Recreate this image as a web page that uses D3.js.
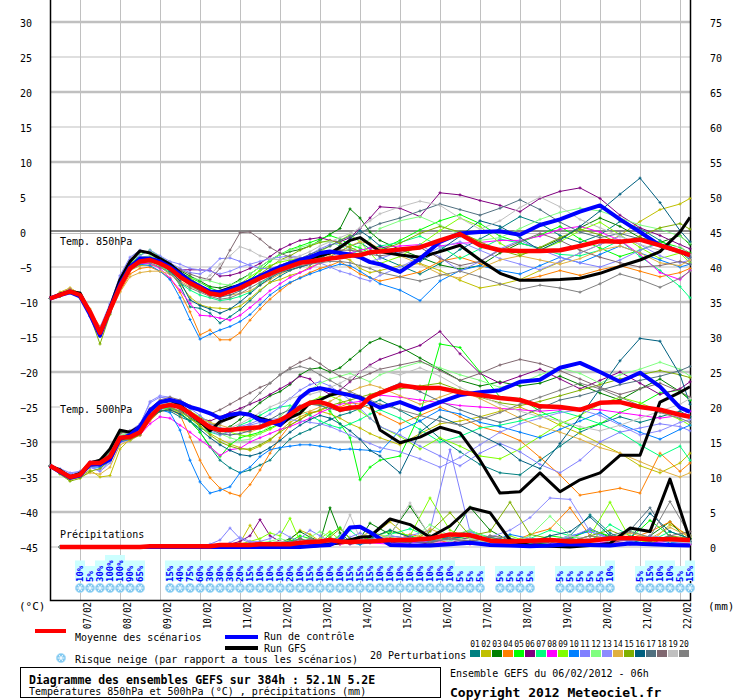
<!DOCTYPE html>
<html>
<head>
<meta charset="utf-8">
<script src="https://cdn.jsdelivr.net/npm/d3@7"></script>
<style>
body { margin: 0; background: #fff; }
svg { display: block; }
text { font-family: "DejaVu Sans Mono", monospace; }
</style>
</head>
<body>
<svg id="chart" width="740" height="700"></svg>
<script>
// forecast hours of the temperature points (6h then 12h steps)
var hoursT = [0,6,12,18,24,30,36,42,48,54,60,66,72,78,84,90,96,102,108,114,120,126,132,138,144,150,156,162,168,174,180,186,192,198,
  210,222,234,246,258,270,282,294,306,318,330,342,354,366,378,384];
// forecast hours of the precipitation points
var hoursP = [6,12,18,24,30,36,42,48,54,60,66,72,78,84,90,96,102,108,114,120,126,132,138,144,150,156,162,168,174,180,186,192,
  204,216,228,240,252,264,276,288,300,312,324,336,348,360,372,384];
var dayHours = [18,42,66,90,114,138,162,186,210,234,258,282,306,330,354,378];
var dayLabels = ["07/02","08/02","09/02","10/02","11/02","12/02","13/02","14/02","15/02","16/02","17/02","18/02","19/02","20/02","21/02","22/02"];
var tempTicks = [30,25,20,15,10,5,0,-5,-10,-15,-20,-25,-30,-35,-40,-45];
var precipTicks = [75,70,65,60,55,50,45,40,35,30,25,20,15,10,5,0];

// mean, control run and GFS run
var mean850 = [-9.5,-9,-8.5,-9,-11.4,-14.4,-11.1,-7.8,-5.2,-4.2, -4,-4.5,-5.2,-6.4,-7.3,-8,-8.8,-9,-8.5,-8, -7.3,-6.6,-6,-5.4,-4.9,-4.4,-4.2,-4,-3.8,-3.6, -3.4,-3.3,-2.9,-2.8,-2.5,-2.2,-1.2,-0.3,-1.9,-2.6, -2.7,-2.7,-2.6,-2,-1.3,-1.4,-1.1,-1.9,-2.8,-3.3];
var ctrl850 = [-9.5,-9,-8.6,-9.2,-11.8,-14.8,-11,-7.5,-5,-3.8, -3.8,-4.2,-5,-6,-7,-7.8,-8.5,-8.6,-8.2,-7.6, -7,-6.3,-5.6,-5,-4.5,-4,-3.6,-3,-2.8,-3, -3.2,-3.6,-4.3,-4.6,-5.7,-3.8,-1.4,-0.2,0,0.1, -0.4,1,1.8,2.9,3.8,1.8,0,-1.9,-2.8,-3.3];
var gfs850 = [-9.5,-8.9,-8.5,-8.7,-11.5,-14.5,-10.8,-6.8,-4.2,-2.7, -3,-3.8,-4.6,-5.8,-7,-8,-8.7,-8.5,-8,-7.6, -7,-6.5,-5.8,-5.2,-4.6,-4.2,-3.8,-3.4,-3,-2.2, -1.2,-0.8,-1.8,-2.8,-3.3,-3.6,-2.8,-1.9,-4,-5.9, -6.9,-6.9,-6.8,-6.6,-5.9,-4.9,-4,-2.8,0,2.1];
var mean500 = [-33.4,-34.2,-35,-34.7,-33,-33,-32.1,-29.4,-29.3,-28.6, -26.4,-25,-24.7,-25,-25.9,-26.9,-27.9,-28.3,-28.3,-28.1, -28,-27.9,-27.3,-26.9,-26.1,-25.1,-24.4,-24.3,-24.7,-25.4, -25.1,-25,-23.6,-23,-21.9,-22.3,-22.3,-22.9,-23.3,-23.7, -24,-24.9,-25,-25.4,-24.4,-24.3,-25,-25.4,-26.1,-26.4];
var ctrl500 = [-33.4,-34.3,-35.1,-34.8,-33.2,-33.2,-32.5,-29.6,-29,-27.8, -25.5,-24.3,-24,-24.3,-25,-25.4,-25.9,-26.6,-26.1,-25.9, -26.1,-26.9,-27.1,-27.6,-25.8,-23.7,-22.6,-22.3,-22.6,-23, -23.3,-23.7,-24.4,-25.1,-24.3,-25.4,-24.3,-23.3,-22.9,-22.6, -21.4,-21.1,-19.4,-18.7,-20,-21.4,-20.1,-22.1,-25.1,-25.7];
var gfs500 = [-33.4,-34,-35,-34.5,-33,-32.6,-31,-28.3,-28.6,-27.8, -25.5,-24.3,-24,-24.7,-26,-27.1,-28.4,-27.1,-26.6,-25.9, -26.1,-26.6,-27,-27.6,-26.5,-25.9,-24.4,-24,-23.3,-23, -23.3,-23.6,-24.4,-28.3,-30.1,-29.3,-27.9,-28.7,-32.6,-37.3, -37.1,-34.4,-37.1,-35.4,-34.4,-31.9,-31.9,-24.3,-22.9,-22.1];
var meanPr = [0,0,0,0,0,0,0,0,0,0.1, 0.1,0.1,0.1,0.1,0.1,0.1,0.3,0.3,0.3,0.3, 0.4,0.4,0.4,0.4,0.6,0.7,0.8,1,0.8,0.7, 0.8,0.8,1,1,1.2,1.8,1.7,0.9,0.8,0.9, 1,0.8,0.9,1.2,1.3,1.1,1.1,1];
var ctrlPr = [0,0,0,0,0,0,0,0,0,0, 0,0,0,0,0,0,0,0,0,0, 0,0,0,0,0,0.1,0.2,0.3,1,2.8, 2.9,2.1,0.3,0.2,0.2,0.4,0.6,0.3,0.2,0.1, 0.2,0.4,0.3,0.2,0.5,0.4,0.3,0.2];
var gfsPr = [0,0,0,0,0,0,0,0,0,0, 0,0,0,0,0,0,0,0,0.1,0.1, 0.1,0.2,0.1,0.1,0.1,0.1,0.2,0.4,0.6,1, 1.4,1.5,4,3.2,1.4,3,5.6,4.9,1,0.2, 0.1,0,0.2,0.5,2.7,2.2,9.7,1];

// 20 perturbations, 850 hPa (°C)
var pert850 = [
 [-9.5,-8.8,-8.3,-9,-11.2,-14,-10.8,-7.3,-4.8,-3.6, -3.8,-4.3,-5.6,-7.6,-10.7,-10.9,-11.6,-13,-12.1,-11.1, -9.8,-8.4,-7.2,-6.3,-5.5,-5,-4.6,-4.2,-3.5,-2.8, -2,-1.5,-2.4,-3.6,-4.8,-6,-4.5,-2.5,-1,0.5, 2.2,1.2,-0.5,-1.5,-0.4,1.5,0.5,-1.2,-2.8,-4],
 [-9.5,-8.6,-8,-8.8,-11,-14,-11,-7.8,-5.5,-4.8, -4.7,-5,-5.8,-7.4,-9.3,-10.4,-10.8,-10.9,-11,-10.6, -9.5,-8.3,-7.2,-6.8,-6.2,-5.8,-5,-4.5,-3.8,-3.5, -4,-5.2,-5.8,-5.5,-4.8,-4.5,-5.5,-6.9,-8,-7.5, -6.8,-5.5,-4.3,-3,-1.8,-0.5,1.5,3.2,4,4.8],
 [-9.5,-9.2,-8.6,-9,-11.4,-14.8,-11,-7.2,-4.4,-2.8, -3,-3.6,-4.4,-5.5,-6.3,-7,-7.8,-8,-7.6,-6.8, -6,-5,-4,-3.2,-2.8,-2.5,-2,-1.2,-0.3,0.5, 3.3,2,0,-1.2,-2.5,-3.6,-4.7,-5.3,-4.8,-3, -1.6,-2.3,-1,0.6,2,0.8,-0.8,-1.5,-0.5,-1.8],
 [-9.5,-8.8,-8.2,-8.8,-11.3,-13.5,-11.2,-8.5,-6,-5.2, -5,-5.6,-6.6,-8.6,-11.4,-14.7,-14,-15.4,-15.4,-14.4, -12.6,-11,-9.6,-8.4,-7.3,-6.5,-5.8,-5.2,-4.8,-4.2, -5.1,-6,-6.5,-7,-6.4,-5.7,-4.2,-3.6,-4.5,-5.8, -6.9,-6.3,-5.5,-6.2,-5.4,-4.8,-5.6,-6.4,-5.8,-5.2],
 [-9.5,-8.9,-8.2,-8.9,-11.3,-14.2,-11,-7.2,-4.6,-3.3, -2.6,-3.5,-4.5,-5.8,-6.5,-7.2,-8,-8.5,-8.2,-7.6, -6.8,-5.5,-4.2,-3.2,-2.5,-2,-1.5,-1,-0.5,-1, -1.8,-2.3,-3,-2.5,-1.2,0.3,1.6,2.5,1.2,-0.6, -1.5,-0.4,0.8,-1,-2.3,-3.5,-2.6,-1.4,-2.2,-3],
 [-9.5,-9,-8.7,-9.2,-11.6,-14.6,-11.5,-7.4,-4.8,-4, -4.2,-4.5,-5,-5.4,-5.4,-5.4,-5.5,-6.3,-6.2,-5.8, -5.2,-4.5,-3.5,-2.5,-1.8,-1.2,-1,-0.8,-1.2,-1.4, -0.8,0.5,2,3.6,3.4,2.2,5.6,5.3,4.5,3.8, 2.9,4.8,5.8,6.3,4.8,2.4,0.6,-0.5,-1.8,-2.4],
 [-9.5,-9,-8.4,-9,-11.3,-14.3,-11.2,-7.6,-5.2,-4.4, -4.2,-4.8,-5.8,-7.3,-8.3,-9,-9.4,-9.8,-9.6,-9.2, -8.6,-7.4,-6.4,-5.7,-5.1,-4.6,-4.2,-3.6,-3,-2.8, -3.2,-2.6,-2.3,-2,-1.5,-0.6,-2,-3.8,-2.4,-1, -1.6,-2.4,-3.2,-3.4,-2.6,-1.2,-3.5,-5.5,-7.8,-9.4],
 [-9.5,-8.9,-8.3,-9,-11.5,-14.6,-11.4,-7.8,-5.4,-4.5, -4.5,-5.2,-6.6,-8.3,-10.2,-11.9,-12,-12.3,-12.6,-11.9, -10.8,-9.6,-8.4,-7.4,-6.5,-5.8,-5.2,-4.4,-3.8,-3.4, -3,-2.6,-2.3,-2.2,-2,-1.8,-2,-1.6,-1.5,-1.2, -1.2,-0.6,0.4,0.8,0,-1.2,-3.2,-5.8,-6.8,-5.5],
 [-9.5,-9.1,-8.5,-9.1,-11.6,-14.9,-11.3,-7.5,-5,-4, -3.8,-4.2,-5,-6.2,-7.2,-8,-8.6,-8.8,-8.2,-7.4, -6.4,-5.5,-4.8,-4.3,-4,-3.8,-3.5,-2.8,-2,-1.2, -0.4,-1.4,-3,-4.5,-3.5,-1.8,0.2,2,0.8,-1.6, -3.2,-2.6,-1.4,0.2,1.4,-0.4,-2.2,-3.8,-3,-4.4],
 [-9.5,-9,-8.6,-9.4,-12,-14.8,-11.6,-8,-5.4,-4.6, -4.8,-5.6,-6.8,-9.4,-12.5,-15.3,-14.6,-14,-13.5,-12.8, -11.8,-10.4,-9,-8,-7.2,-6.6,-6,-5.5,-5,-4.6, -4.8,-5.6,-6.5,-7.4,-8.3,-9.8,-7,-5.5,-4.8,-5.5, -6,-4.8,-3.6,-4.4,-3.2,-2,-3,-4,-5,-4.6],
 [-9.5,-8.8,-8.1,-9.3,-12,-14.2,-10.4,-6.2,-3.6,-2.6, -3,-3.6,-4.4,-5.2,-5.8,-6,-5.2,-3.8,-3.7,-4.2, -4.8,-5.2,-5.2,-4.8,-4.2,-3.8,-3.2,-2.4,-1.8,-1.6, -2.4,-3.6,-4.2,-3.8,-2.8,-1.8,-3.6,-5.6,-4.2,-2.4, -1.2,-2.5,-3.6,-4.4,-5,-4,-2.6,-1.6,-2.8,-3.6],
 [-9.5,-9,-8.4,-8.9,-11.2,-14.1,-11,-7.4,-4.8,-3.6, -3.4,-4,-5,-6,-6.6,-6.8,-7,-7.4,-7.6,-7, -6,-5,-4,-3.2,-2.6,-2.2,-1.8,-1.4,-1.4,-2, -2.6,-2,-1,0.5,1.6,2.2,1,-0.4,-1.2,-0.8, 0.5,1.8,2.8,3.4,3,2,1,0.4,-0.6,-1.6],
 [-9.5,-8.9,-8.3,-9.2,-11.8,-13.6,-10.2,-6.4,-4,-3.4, -2.6,-3.4,-4.2,-4.6,-5.2,-5.4,-5.6,-6,-5.6,-5, -4.6,-4.2,-3.8,-3.6,-3.4,-3.6,-4,-4.4,-5,-5.6, -6,-6.6,-7,-6.2,-5,-3.6,-2.2,-1.4,-2.6,-3.8, -4.6,-5.4,-4.2,-3,-1.8,-0.6,-1.8,-3.4,-4.4,-4],
 [-9.5,-8.7,-8,-8.8,-11.5,-13.8,-11.6,-8.6,-6.4,-5.8, -5.6,-5.6,-6,-7,-7.8,-8.4,-9,-9.2,-9,-8.8, -8.4,-7.6,-6.8,-6,-5.4,-5,-4.4,-3.8,-3.4,-2.8, -2,-1.4,-1.6,-2.4,-3.4,-4.6,-6,-6.6,-5.2,-4, -3.4,-4,-4.6,-3.8,-2.6,-2,-3,-4.4,-4.8,-4],
 [-9.5,-9.2,-8.7,-9.4,-12,-16,-11.8,-7.8,-5.2,-4.2, -3.9,-4.1,-4.8,-5.8,-6.6,-7.6,-8.4,-8.6,-8.4,-7.8, -7,-6,-5,-4,-3.4,-2.6,-2,-1.5,-1.2,-1.6, -2.2,-2.8,-3,-2.6,-1.6,-0.2,0.8,0,-1.4,-2.6, -3.4,-2.2,-0.8,0.4,-0.4,-1.6,-0.6,0.6,1.2,0.4],
 [-9.5,-9,-8.5,-9.1,-11.5,-14.5,-11.2,-7.6,-5.1,-4, -4,-4.6,-5.6,-7,-9.7,-10.5,-11,-11.6,-11,-10, -8.8,-7.6,-6.6,-5.8,-5.4,-5,-4.6,-3.8,-3,-2, -1,0.2,-0.8,-2,-3.2,-4.2,-2.6,-0.6,1.6,0.8, -0.8,-2.6,-1.2,0.8,3,5.4,7.7,4.2,0.2,-1.4],
 [-9.5,-8.9,-8.4,-9,-11.4,-14.2,-11,-7.6,-5.2,-4.2, -4.1,-4.6,-5.4,-6.6,-7.6,-8.4,-9,-9.3,-9,-8.4, -7.6,-6.6,-5.6,-4.8,-4.2,-3.8,-3.2,-2.6,-2,-1.2, -0.6,-0.2,0.6,1.2,2,3,4,3.2,2.4,3.4, 4.6,3.2,1.4,0,-0.8,-0.2,-1,-1.8,-2.8,-3.6],
 [-9.5,-8.8,-8.2,-9,-11.4,-13.9,-10.6,-7,-4.6,-3.8, -3.7,-4.2,-4.8,-5.4,-6,-6.5,-6.8,-5.2,-2.6,-0.1, 0,-1,-2.2,-3,-3.6,-3.8,-3.6,-3.2,-2.8,-2.6, -2.6,-2.8,-3.2,-3.4,-3,-2.2,-3.8,-4.8,-4.2,-2.6, -1.4,-0.2,-1.2,-2.6,-3.6,-4.4,-5,-4.8,-4.2,-4.6],
 [-9.5,-9,-8.5,-9,-11.3,-14.2,-10.8,-7.2,-4.9,-4, -3.9,-4.4,-5.2,-6.4,-7.4,-7.4,-6.2,-4.6,-3.4,-2.1, -2.6,-3.4,-3.8,-4,-3.8,-3.4,-2.8,-2,-1.4,-0.8, -0.2,0.6,1.6,2.6,3.6,4.4,3.8,2,0.4,1.6, 3.5,5,3.6,1.8,0.6,-0.6,-1.8,-2.6,-2,-3.2],
 [-9.5,-9.1,-8.6,-9.2,-11.8,-14.8,-11.3,-7.6,-5.2,-4.4, -4.4,-5,-6,-7.2,-8,-8.6,-9.2,-9.6,-9.4,-8.8, -8,-7.2,-6.4,-5.8,-5.2,-4.8,-4.6,-4.4,-4.2,-4.2, -4.4,-4.8,-5.2,-5.8,-6.4,-7,-6.2,-5.6,-6.4,-7.4, -8.2,-7.6,-8,-8.6,-7.4,-6,-6.8,-7.9,-6.6,-5.6]
];

// 20 perturbations, 500 hPa (°C)
var pert500 = [
 [-33.4,-34.3,-35.2,-34.6,-33.2,-33.4,-32.6,-29.8,-29.2,-28.4, -26.6,-25.4,-25.6,-26.4,-27,-28.6,-30.7,-32.6,-33.7,-34.4, -34,-33.3,-32.6,-31,-29.6,-28.8,-28.2,-27.5,-26.8,-26.2, -25.8,-25.2,-24.6,-24,-25.5,-27,-29.5,-31.4,-33.2,-34.4, -34.7,-32.6,-30.6,-28.6,-27.4,-26.4,-27.2,-26.4,-25.6,-26.4],
 [-33.4,-34.5,-35.4,-35,-34,-35,-34.8,-31,-29.6,-28.8, -26.6,-25.2,-25,-25.6,-26.6,-27.6,-28.8,-29.6,-30.3,-30.8, -31.2,-30.6,-29.8,-28.4,-27.2,-26.4,-25.8,-25.6,-26,-26.6, -27.4,-28,-28.8,-29.4,-30.4,-28.8,-27.4,-27,-26.4,-25.6, -25,-26.2,-27.6,-28.8,-30.2,-31.6,-33.4,-34.4,-33,-31.6],
 [-33.4,-34.2,-35,-34.4,-33.3,-32.8,-32,-28.6,-28.8,-28.2, -25.6,-24.2,-24.4,-25.4,-26.5,-27.4,-28,-28.4,-27.8,-26.8, -25.6,-24.4,-23.4,-22.8,-21.8,-20.4,-19.6,-19.4,-20,-19.4, -18.2,-17,-15.8,-15.2,-16.4,-18,-19.6,-21.2,-22,-21.4, -22,-21.6,-20.6,-21.8,-23,-24,-22.4,-21,-22.8,-24],
 [-33.4,-34,-35,-34.8,-33.6,-33.2,-32.4,-29.6,-29.6,-29, -27,-25.6,-25.4,-26.1,-29.3,-32.6,-35.1,-36.6,-37.3,-37.7, -36.1,-34,-31.6,-29.4,-27.6,-26.8,-25.8,-25.6,-24.8,-25, -24.4,-24.6,-25.2,-26,-27.4,-26.2,-25,-26.4,-27.8,-28.6, -29.8,-32.2,-34.7,-37.6,-37.1,-36.6,-37.3,-31.6,-34.2,-33],
 [-33.4,-34.4,-35.3,-34.6,-33,-32.6,-31.6,-29.4,-29.8,-28.8, -26.2,-25,-25,-25.8,-27,-28.6,-30.6,-32.1,-30.4,-29.4, -29,-28.6,-28,-27.4,-26.6,-25.4,-24.6,-24.6,-25.6,-27.4, -29.4,-35.4,-33.6,-32.6,-32,-26,-16,-16.5,-20,-23.6, -23.8,-25.6,-27,-28.2,-27.4,-25.8,-24.6,-23,-22.6,-24],
 [-33.4,-34.2,-34.8,-34.4,-32.8,-32.6,-31.8,-29.2,-28.8,-28, -25.4,-24.4,-24.2,-24.6,-25.6,-26.6,-27,-26.4,-25.8,-25.2, -24.6,-24,-23.2,-22.4,-21.6,-20.6,-21,-22.4,-23.2,-22.6, -21.4,-20,-19,-18.2,-17.2,-16.2,-14.2,-17.4,-20.2,-21.6, -20.6,-19.6,-21,-22.4,-21.2,-20,-21.6,-23.2,-22.4,-21.4],
 [-33.4,-34.3,-35,-34.5,-33.2,-33,-32.2,-29.6,-29.4,-28.6, -26.4,-25.2,-25.2,-26,-27,-28,-28.6,-29,-28.4,-27.6, -27,-26.2,-25.4,-25,-24.8,-25.4,-26.2,-27,-27.6,-28, -27.4,-26.8,-26,-25.4,-26.6,-28.2,-30,-29.2,-28,-27.6, -27,-26.2,-25.6,-26.4,-27.4,-28.6,-30.4,-32,-30.6,-32.6],
 [-33.4,-34.2,-34.9,-34.6,-33.2,-33.4,-32.6,-30,-29.6,-29, -27.4,-26.4,-26.6,-27.6,-28.6,-29.7,-30.7,-31.9,-31.1,-30.9, -30,-29.4,-28.8,-28.2,-27.8,-27.2,-26.6,-25.8,-25.2,-24.6, -24.4,-24.2,-23.6,-23.3,-23.6,-24,-24.4,-24.8,-25,-25.2, -25.4,-25.6,-25.4,-25.2,-25.4,-25.8,-26.2,-26.6,-26.2,-25.6],
 [-33.4,-34.4,-35.2,-34.8,-33.4,-33.2,-32.4,-29.6,-29.2,-28.6, -26,-24.8,-24.4,-24.8,-25.6,-26.4,-27.2,-28,-28.6,-29, -29.2,-28.8,-28.2,-27.4,-26.4,-25.2,-24.2,-23.6,-23.4,-24, -24.8,-25.6,-26.6,-27.8,-29.2,-31,-29.4,-30.6,-32,-32.4, -31,-29.2,-27.4,-26.2,-24.6,-23.6,-24.4,-25.6,-26.8,-27.6],
 [-33.4,-34.4,-35.2,-34.8,-33.6,-33.6,-32.8,-30,-29.6,-28.8, -26.6,-25.4,-25.8,-28.3,-32.6,-35.7,-37.3,-36.9,-36.4,-34.4, -33.6,-32.1,-31.1,-30.8,-30.6,-30.4,-30.4,-30.6,-30.8,-31.1, -31,-31.1,-31.2,-31.4,-28.3,-27,-25.4,-26,-27.2,-27.8, -28.6,-29.4,-28.2,-27,-25.8,-27.4,-28.6,-29.6,-28.2,-27.6],
 [-33.4,-34,-34.6,-34.2,-33.6,-34.2,-33,-29.6,-28.4,-27.4, -24.4,-23.6,-23.8,-24.4,-25.2,-26.2,-27.4,-28,-28.2,-27.8, -27.4,-26.8,-26,-25,-23.8,-22.6,-21.8,-21.4,-22,-23, -24,-25.2,-26.6,-27.8,-29,-30.6,-32,-33.4,-31.6,-30.2, -31.4,-33.2,-34.4,-32.6,-30,-28.6,-28,-27.4,-27.8,-28.4],
 [-33.4,-34.2,-35,-34.6,-33.2,-32.8,-31.6,-29,-28.8,-28.2, -25.8,-24.6,-24.4,-24.8,-25.8,-27,-28,-28.8,-29.4,-29.8, -29.6,-28.8,-27.6,-26.4,-25,-23.8,-22.6,-21.6,-21,-20.6, -20.2,-20.8,-21.4,-20.4,-19.4,-18.6,-19.4,-20.4,-21.2,-22.2, -21.6,-20.4,-19.4,-20.2,-21.6,-20.4,-19.6,-18.6,-19.6,-20.6],
 [-33.4,-33.8,-34.4,-34.2,-33.6,-34,-32.8,-29.8,-28.6,-27.6, -24.2,-23.4,-23.6,-24.6,-26,-27.2,-28.4,-29,-28.6,-28, -27.6,-27.2,-26.8,-26.6,-26.8,-27,-27.2,-27.4,-27.8,-28.4, -29,-29.6,-30.2,-30.8,-31.4,-32.4,-33.6,-32.2,-30.4,-28.6, -27.4,-26.6,-25.8,-25.4,-26.2,-27.6,-29,-28.4,-27.2,-26.8],
 [-33.4,-34.4,-35.4,-35,-34.4,-34.6,-33.6,-30.4,-29.8,-29, -26.8,-25.6,-25.4,-25.8,-26.4,-26.8,-27.2,-27.6,-28,-28.4, -28.6,-28,-27.2,-26.6,-26.2,-26,-25.6,-25,-24.2,-23.4, -22.8,-22.2,-21.8,-22.2,-23.4,-24.6,-23.6,-22.6,-23.8,-25.2, -26.6,-27.8,-28.6,-29.6,-30.8,-31.6,-32.8,-34,-35,-34.4],
 [-33.4,-34.6,-35.6,-35.2,-34.2,-33.8,-32.6,-29.8,-29.6,-29, -26.8,-25.6,-25.2,-25.6,-26.6,-27.8,-29,-30,-30.6,-31, -31,-30.4,-29.6,-28.6,-27.6,-26.8,-26,-25.4,-24.8,-24.4, -24,-23.6,-23.2,-22.8,-22.4,-22,-21.6,-22.6,-23.6,-24.4, -24.8,-24.2,-23.4,-22.6,-21.8,-21,-20.4,-19.8,-20.4,-20.8],
 [-33.4,-34.2,-35.2,-34.8,-33.4,-33.2,-32.4,-29.6,-29.4,-28.8, -26.6,-25.6,-25.4,-26,-27,-28.2,-29.4,-30.4,-31.2,-31.8, -32,-31.6,-30.8,-29.8,-28.6,-27.6,-26.8,-26.2,-26.6,-27.4, -28.4,-29.6,-31.2,-32,-34.4,-28.6,-26.4,-27.6,-29,-30.4, -32.6,-33.8,-30.2,-26.4,-22.4,-18.4,-15.2,-15.6,-20.4,-24.6],
 [-33.4,-34.2,-35,-34.6,-33.2,-33,-32.2,-29.4,-29,-28.4, -26,-24.8,-24.6,-25.2,-26.2,-27.2,-28.2,-28.8,-29,-28.8, -28.4,-27.6,-26.8,-26,-25.4,-24.8,-24.6,-24.8,-25.2,-25.6, -25.4,-24.8,-23.8,-22.8,-21.6,-22.8,-24.2,-25.4,-26.4,-27.2, -26.4,-25.2,-24,-23.4,-22.6,-21.8,-21.2,-20.6,-19.8,-19.2],
 [-33.4,-34,-34.8,-34.4,-33,-32.6,-31.6,-28.8,-28.4,-27.6, -25.2,-24,-23.6,-24,-24.8,-25.6,-26,-25.4,-24.6,-23.8, -23,-22.2,-21.6,-20.4,-19.4,-18.6,-18,-18.8,-19.8,-20.6, -21.2,-20.8,-20.2,-19.6,-19,-18.4,-19.8,-21.2,-20.2,-19, -18.2,-18.8,-19.8,-21,-22.2,-23.2,-22.4,-21.6,-22.8,-23.6],
 [-33.4,-34.1,-34.9,-34.5,-33.2,-32.8,-32,-29.2,-29,-28.2, -25.8,-24.6,-24.4,-25,-26,-27,-27.8,-28.2,-28,-27.4, -26.6,-25.8,-25,-24.4,-23.8,-23.4,-23.2,-22.8,-22.2,-21.6, -20.8,-20,-19.2,-19.8,-20.4,-19.4,-20.6,-22.2,-23.4,-24.6, -25.6,-26.4,-27,-27.8,-28.4,-27.6,-26.6,-25.6,-24.6,-23.8],
 [-33.4,-34.3,-35.1,-34.6,-33.4,-33.2,-32.4,-29.6,-29.4,-28.8, -26.4,-25.2,-25,-25.6,-26.4,-27.2,-27.6,-27.4,-26.6,-25.6, -24.4,-23,-21.6,-20.4,-19.6,-19.2,-19.6,-20.4,-21.2,-22, -22.8,-23.4,-24,-24.6,-25.4,-26.2,-27,-27.6,-26.8,-25.8, -24.6,-23.6,-22.6,-21.6,-22.4,-23.6,-24.8,-25.8,-26.6,-27.2]
];

// 20 perturbations, precipitation (mm)
var pertPr = [
 [0,0,0,0,0,0,0,0,0,0, 0,0,0,0,0,0,0.1,0.2,0.1,0, 0.2,0.4,0.3,0.8,1.2,0.6,0.4,0.8,1.6,0.6, 0.4,0.8,1.6,1.2,0.6,1.4,2.4,1.2,0.6,0.4, 0.8,1.6,4.6,2,0.6,1.2,0.8,0.4],
 [0,0,0,0,0,0,0,0,0,0, 0,0,0,0,0,0.1,0.2,0.3,0.6,3.1, 0.8,0.4,0.6,1,2.4,1.8,0.8,0.6,0.4,0.6, 0.8,1.4,3.6,1.2,0.6,0.4,0.8,1.2,0.6,0.4, 0.8,1.2,0.6,0.4,1.4,0.6,3.2,1.6],
 [0,0,0,0,0,0,0,0,0,0, 0,0,0,0,0,0,0,0.1,0.1,0.2, 0.3,0.4,0.6,1.2,2.2,1.4,0.8,5.6,2,0.8, 1.2,3.4,1.8,5.8,1.6,1.2,5.7,2.4,0.8,0.4, 0.6,1.2,2.6,1.4,0.8,1.6,3.6,0.6],
 [0,0,0,0,0,0,0,0,0,0, 0,0,0,0,0,0,0,0.1,0.2,0.1, 0.2,0.3,0.6,0.8,0.4,0.6,1,0.8,0.4,0.6, 1.2,0.8,0.6,1.8,1.2,0.6,0.8,1.4,0.6,1.8, 2.6,5.6,1.6,0.8,1.2,2.2,3.6,1.2],
 [0,0,0,0,0,0,0,0,0,0, 0,0,0,0,0,0,0.1,0.1,0.2,0.3, 0.4,0.6,0.4,0.8,1.6,1.2,0.6,1.8,2.8,1.2, 0.6,1.4,2.2,1.6,0.8,1.4,1.2,0.6,0.4,0.8, 1.6,1.2,2.4,1.6,1.2,3.8,1.6,0.6],
 [0,0,0,0,0,0,0,0,0,0, 0,0,0,0,0,0,0.2,0.4,0.8,1.6, 3.9,1.6,0.8,0.6,0.4,1,0.6,0.4,0.8,0.4, 0.6,1.2,0.6,0.8,0.4,0.6,1.4,0.8,0.6,0.4, 0.8,0.6,1.2,0.8,0.6,0.4,1.6,0.8],
 [0,0,0,0,0,0,0,0,0,0, 0,0,0,0,0,0,0,0.1,0.1,0.2, 0.2,0.4,0.6,0.4,0.8,0.6,1.2,0.8,1.6,2.4, 1.2,0.8,1.8,2.6,1.4,0.8,2.2,1.4,0.8,1.2, 2.4,1.6,0.8,3.2,1.6,0.8,2.2,1.2],
 [0,0,0,0,0,0,0,0,0,0, 0,0,0,0,0,0,0,0.1,0.1,0.2, 0.2,0.2,0.4,0.4,0.6,0.4,0.8,0.6,0.4,0.6, 0.8,0.6,0.4,0.6,0.8,0.6,0.4,0.6,0.4,0.2, 0.4,0.6,0.8,0.6,0.4,0.6,0.8,0.4],
 [0,0,0,0,0,0,0,0,0,0, 0,0,0,0,0,0,0,0.2,0.4,0.8, 1.2,2,1.6,4.1,0.8,0.6,1.2,2.2,1,0.8, 0.6,1.2,2.4,1.6,7,2.4,1.2,0.8,1.6,0.6, 1.2,0.8,1.6,6.4,1.2,0.6,1.4,0.8],
 [0,0,0,0,0,0,0,0,0,0, 0,0,0,0,0,0,0,0,0.1,0.1, 0.2,0.4,0.2,0.6,0.4,0.8,0.6,0.4,1.2,0.6, 0.4,0.6,1.2,0.8,0.6,1.4,0.8,0.6,1.8,1.2, 0.8,1.6,2.2,1.2,0.8,1.4,0.6,0.8],
 [0,0,0,0,0,0,0,0,0,0, 0,0,0,0,0,0.4,1,2.7,1.2,0.6, 0.6,0.4,0.8,0.6,1.2,2.4,1.6,0.8,0.6,1.4, 2,1.2,0.8,1.6,2.4,13.9,2.2,0.8,0.6,1.2, 0.8,1.4,2.6,1.2,0.8,1.6,1.2,0.6],
 [0,0,0,0,0,0,0,0,0,0, 0,0,0,0,0,0,0.1,0.2,0.2,0.4, 0.6,0.8,1.2,0.8,0.6,1.4,2.2,1.4,0.8,0.6, 1.2,2.2,1.4,0.8,3.2,1.6,2.4,1.2,0.6,1.6, 4.4,1.6,0.8,1.2,2.4,1.2,0.8,1.4],
 [0,0,0,0,0,0,0,0,0,0, 0,0,0,0,0,0,0.1,0.6,1.4,0.8, 0.8,1.2,2.2,1.4,0.8,0.6,1.2,0.8,0.6,0.8, 1.2,0.8,1.6,1.2,0.8,1.2,0.6,1.4,2.4,4.2, 7,6.8,2.2,1.2,0.8,1.4,0.8,0.6],
 [0,0,0,0,0,0,0,0,0,0, 0,0,0,0,0,0,0,0.1,0.2,0.4, 0.6,0.4,0.8,0.6,0.4,0.8,1.2,0.8,0.6,0.8, 1.4,2.2,1.2,0.8,2.6,1.4,0.8,1.2,0.6,0.8, 1.2,0.8,1.6,1.2,2,1.2,2.8,1.4],
 [0,0,0,0,0,0,0,0,0,0, 0,0,0,0,0,0,0,0.1,0.2,0.2, 0.4,0.6,0.8,0.6,1.2,0.8,0.6,1.4,2.6,1.2, 0.8,1.6,1.2,0.8,2.2,4.9,1.6,2.2,6.4,1.8, 1.2,0.8,1.6,2.4,1.2,0.8,1.6,1.2],
 [0,0,0,0,0,0,0,0,0,0, 0,0,0,0,0,0,0,0,0.1,0.2, 0.3,0.4,0.6,0.8,0.6,1.2,0.8,0.6,1.4,0.8, 0.6,1.2,2.4,1.4,0.8,1.2,1.6,0.8,1.2,0.6, 1.6,2.2,4.3,1.6,1.2,4.8,2.2,1.2],
 [0,0,0,0,0,0,0,0,0,0, 0,0,0,0,0,0,0,0.1,0.1,0.2, 0.2,0.4,0.6,0.4,0.8,0.6,0.8,1.2,0.8,0.6, 0.8,1.2,0.8,0.6,1.6,1.2,0.8,1.4,0.8,0.6, 0.8,1.2,0.8,1.6,2.4,5.6,1.2,0.8],
 [0,0,0,0,0,0,0,0,0,0, 0,0,0,0,0,0,0.1,0.2,0.3,0.4, 0.6,0.4,0.8,0.6,1.2,0.8,0.6,0.8,1.2,0.8, 0.6,0.8,1.2,0.8,0.6,1.2,0.8,1.6,1.2,0.8, 0.6,1.2,0.8,1.4,1.2,0.8,1.6,2.2],
 [0,0,0,0,0,0,0,0,0,0, 0,0,0,0,0,0,0,0.1,0.2,0.3, 0.4,0.6,0.8,0.6,0.8,1.2,0.8,0.6,1.4,4.6, 1.2,0.8,1.6,6.3,1.4,0.8,1.2,0.6,0.8,1.2, 0.8,1.6,1.2,0.8,1.4,1.2,0.8,0.6],
 [0,0,0,0,0,0,0,0,0,0, 0,0,0,0,0,0,0,0.1,0.2,0.2, 0.4,0.6,0.4,0.8,0.6,1.2,0.8,0.6,1.2,0.8, 0.6,1.2,0.8,1.4,0.8,1.2,0.6,1.6,1.2,0.8, 1.2,0.8,1.6,1.2,2.2,1.4,6.5,1.6]
];

var pertColors = ["#008080","#c0c000","#008000","#ff8000","#00ff00","#800080","#00ff80","#ff00ff","#80ff00","#0080ff",
  "#8080ff","#80ff80","#8c8cff","#e0b040","#80b000","#006080","#507080","#806870","#c0c0c0","#808080"];
var pertNames = ["01","02","03","04","05","06","07","08","09","10","11","12","13","14","15","16","17","18","19","20"];

// snow risk (%) every 6h from 0h to 384h, null = none
var snowPct = [null,null,null,10,5,30,100,100,90,65, null,null,15,40,75,60,30,30,30,20, 15,10,10,10,20,10,15,10,10,10,
  15,15,15,10,10,10,10,10,10,10, 10,5,5,5,null,5,5,5,5,null, null,5,5,5,5,5,10,null,null,5, 15,10,10,5,15];

var svg = d3.select("#chart");
var x = d3.scaleLinear().domain([0, 384]).range([50, 690]);
var yT = d3.scaleLinear().domain([-45, 30]).range([547, 22]);
var yP = d3.scaleLinear().domain([0, 75]).range([547, 22]);

// grid
var grid = svg.append("g");
grid.selectAll(".v").data(dayHours).join("line")
  .attr("x1", d => x(d) + 0.5).attr("x2", d => x(d) + 0.5)
  .attr("y1", 0).attr("y2", 600)
  .attr("stroke", "#c0c0c0");
grid.selectAll(".h").data(tempTicks.filter(d => d != -25 && d != 0)).join("line")
  .attr("x1", 50).attr("x2", 690)
  .attr("y1", d => yT(d)).attr("y2", d => yT(d))
  .attr("stroke", "#c0c0c0")
  .attr("stroke-width", d => d % 10 == 0 ? 2.5 : 1.2);
grid.append("line").attr("x1", 50).attr("x2", 60).attr("y1", yT(-25)).attr("y2", yT(-25)).attr("stroke", "#c0c0c0");
grid.append("line").attr("x1", 50).attr("x2", 690).attr("y1", yT(0) - 1).attr("y2", yT(0) - 1)
  .attr("stroke", "#888").attr("stroke-width", 2);
grid.append("line").attr("x1", 50).attr("x2", 690).attr("y1", yT(0) + 1.5).attr("y2", yT(0) + 1.5)
  .attr("stroke", "#c0c0c0").attr("stroke-width", 1);

// axes
var axL = svg.append("g").attr("transform", "translate(20,1)")
  .call(d3.axisRight(yT).tickValues(tempTicks).tickSize(0).tickPadding(0).tickFormat(d3.format("d")));
axL.select(".domain").remove();
axL.selectAll("text").attr("font-size", 10).attr("font-family", "DejaVu Sans Mono");
var axR = svg.append("g").attr("transform", "translate(710,1)")
  .call(d3.axisRight(yP).tickValues(precipTicks).tickSize(0).tickPadding(0));
axR.select(".domain").remove();
axR.selectAll("text").attr("font-size", 10).attr("font-family", "DejaVu Sans Mono");

// frame
svg.append("path").attr("d", "M50.5,0V600.5H690.5V0").attr("fill", "none").attr("stroke", "#000").attr("stroke-width", 1.5);

// date labels
svg.selectAll(".day").data(dayHours).join("text")
  .attr("transform", (d, i) => "translate(" + (x(d) + 11) + ",602) rotate(-90)")
  .attr("text-anchor", "end").attr("font-size", 10.5)
  .attr("textLength", 27).attr("lengthAdjust", "spacingAndGlyphs")
  .text((d, i) => dayLabels[i]);

svg.append("text").attr("x", 19).attr("y", 610).attr("font-size", 11).text("(°C)");
svg.append("text").attr("x", 708).attr("y", 610).attr("font-size", 11).text("(mm)");

// series drawing
var lines = svg.append("g");
function drawSeries(hours, vals, yScale, color, width, marks) {
  var pts = hours.map((h, i) => [h, vals[i]]);
  var line = d3.line().x(d => x(d[0])).y(d => yScale(d[1]));
  lines.append("path").datum(pts).attr("d", line)
    .attr("fill", "none").attr("stroke", color).attr("stroke-width", width).attr("stroke-linejoin", "round");
  if (marks) {
    lines.append("g").selectAll("path").data(pts).join("path")
      .attr("d", d => "M" + (x(d[0]) - 1.5) + "," + yScale(d[1]) + "h3M" + x(d[0]) + "," + (yScale(d[1]) - 1.5) + "v3")
      .attr("stroke", color).attr("stroke-width", 1);
  }
}
pert850.forEach((s, i) => drawSeries(hoursT, s, yT, pertColors[i], 1, true));
pert500.forEach((s, i) => drawSeries(hoursT, s, yT, pertColors[i], 1, true));
pertPr.forEach((s, i) => drawSeries(hoursP, s, yP, pertColors[i], 1, true));

drawSeries(hoursT, gfs850, yT, "#000", 3, false);
drawSeries(hoursT, gfs500, yT, "#000", 3, false);
drawSeries(hoursP, gfsPr, yP, "#000", 3, false);
drawSeries(hoursT, ctrl850, yT, "#0000ff", 4, false);
drawSeries(hoursT, ctrl500, yT, "#0000ff", 4, false);
drawSeries(hoursP, ctrlPr, yP, "#0000ff", 4, false);
drawSeries(hoursT, mean850, yT, "#ff0000", 4.5, false);
drawSeries(hoursT, mean500, yT, "#ff0000", 4.5, false);
drawSeries(hoursP, meanPr, yP, "#ff0000", 4.5, false);

// panel labels
svg.append("text").attr("x", 60).attr("y", 245).attr("font-size", 10).text("Temp. 850hPa");
svg.append("text").attr("x", 60).attr("y", 413).attr("font-size", 10).text("Temp. 500hPa");
svg.append("text").attr("x", 60).attr("y", 538).attr("font-size", 10).text("Précipitations");

// snow risk row
function flake(g, cx, cy) {
  g.append("circle").attr("cx", cx).attr("cy", cy).attr("r", 4.6).attr("fill", "#80c8f0").attr("stroke", "#a8dcf8").attr("stroke-width", 0.8);
  [0, 60, 120].forEach(a => {
    var r = a * Math.PI / 180, dx = 3.4 * Math.cos(r), dy = 3.4 * Math.sin(r);
    g.append("line").attr("x1", cx - dx).attr("y1", cy - dy).attr("x2", cx + dx).attr("y2", cy + dy)
      .attr("stroke", "#fff").attr("stroke-width", 0.9);
  });
}
var snowData = snowPct.map((p, i) => ({ h: i * 6, p: p })).filter(d => d.p != null);
var snowG = svg.append("g");
snowData.forEach(d => {
  var cx = x(d.h);
  var len = (d.p + "%").length * 5.5;
  snowG.append("rect").attr("x", cx - 5).attr("y", 580 - len - 3).attr("width", 10).attr("height", len + 4).attr("fill", "#ccffff");
});
snowData.forEach(d => {
  var cx = x(d.h);
  snowG.append("text").attr("transform", "translate(" + (cx + 3) + ",582) rotate(-90)")
    .attr("font-size", 9).attr("font-weight", "bold").attr("fill", "#0000ff").text(d.p + "%");
  flake(snowG, cx, 588);
});

// legend
var lg = svg.append("g").attr("font-size", 10);
lg.append("line").attr("x1", 35).attr("x2", 66).attr("y1", 631).attr("y2", 631).attr("stroke", "#ff0000").attr("stroke-width", 4);
lg.append("text").attr("x", 75).attr("y", 641).text("Moyenne des scénarios");
lg.append("line").attr("x1", 225).attr("x2", 258).attr("y1", 637).attr("y2", 637).attr("stroke", "#0000ff").attr("stroke-width", 4);
lg.append("text").attr("x", 264).attr("y", 640).text("Run de contrôle");
lg.append("line").attr("x1", 225).attr("x2", 258).attr("y1", 648).attr("y2", 648).attr("stroke", "#000").attr("stroke-width", 4);
lg.append("text").attr("x", 264).attr("y", 652).text("Run GFS");
flake(lg, 61, 658);
lg.append("text").attr("x", 75).attr("y", 663).text("Risque neige (par rapport a tous les scénarios)");
lg.append("text").attr("x", 370).attr("y", 659).text("20 Perturbations");
lg.selectAll(".sw").data(pertColors).join("rect")
  .attr("x", (d, i) => 470 + i * 11).attr("y", 650).attr("width", 10).attr("height", 7).attr("fill", d => d);
lg.selectAll(".swn").data(pertNames).join("text")
  .attr("x", (d, i) => 475 + i * 11).attr("y", 647).attr("text-anchor", "middle").attr("font-size", 8).text(d => d);

// title box
svg.append("rect").attr("x", 20.5).attr("y", 667.5).attr("width", 420).attr("height", 30).attr("fill", "none").attr("stroke", "#000");
svg.append("text").attr("x", 29).attr("y", 684).attr("font-size", 11.5).attr("font-weight", "bold")
  .text("Diagramme des ensembles GEFS sur 384h : 52.1N 5.2E");
svg.append("text").attr("x", 29).attr("y", 695).attr("font-size", 10)
  .text("Températures 850hPa et 500hPa (°C) , précipitations (mm)");
svg.append("text").attr("x", 450).attr("y", 677).attr("font-size", 10).text("Ensemble GEFS du 06/02/2012 - 06h");
svg.append("text").attr("x", 450).attr("y", 697).attr("font-size", 13).attr("font-weight", "bold").text("Copyright 2012 Meteociel.fr");
</script>
</body>
</html>
